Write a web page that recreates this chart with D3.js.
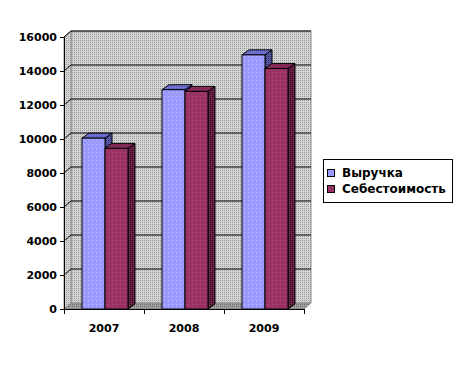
<!DOCTYPE html>
<html lang="ru">
<head>
    <meta charset="UTF-8">
    <script src="https://cdn.jsdelivr.net/npm/d3@7"></script>
    <title>Выручка и себестоимость</title>
    <style>
        body { margin: 0; background: #fff; }
        text { font-family: "DejaVu Sans", Verdana, sans-serif; font-size: 11px; font-weight: bold; fill: #000; }
        .legend text { font-size: 12px; }
    </style>
</head>
<body>
    <svg width="462" height="366"></svg>
    <script>
        const years = ['2007', '2008', '2009'];
        const seriesNames = ['Выручка', 'Себестоимость'];
        const revenue = [10050, 12900, 14950];
        const cost = [9450, 12800, 14150];
        const yTicks = [0, 2000, 4000, 6000, 8000, 10000, 12000, 14000, 16000];

        const svg = d3.select('svg');
        const defs = svg.append('defs');

        // dither-ish fills
        function dots(id, bg, fg, size, r) {
            const p = defs.append('pattern').attr('id', id).attr('width', size).attr('height', size)
                .attr('patternUnits', 'userSpaceOnUse');
            p.append('rect').attr('width', size).attr('height', size).attr('fill', bg);
            p.append('rect').attr('width', r).attr('height', r).attr('fill', fg);
        }
        dots('wall', '#d4d4d4', '#9a9a9a', 2, 1);
        dots('floor', '#a0a0a0', '#6e6e6e', 2, 1);
        dots('blueFront', '#9999ff', '#c4c4ff', 4, 1);
        dots('redFront', '#993366', '#c04a86', 4, 1);
        dots('blueSide', '#5a5aa8', '#2d2d70', 2, 1);
        dots('redSide', '#6a2448', '#2e0a1c', 2, 1);
        dots('blueTop', '#7272d4', '#5a5ab8', 2, 1);
        dots('redTop', '#8c2e5e', '#701f4a', 2, 1);

        const y = d3.scaleLinear().domain([0, 16000]).range([309, 37]);
        const x0 = d3.scaleBand().domain(years).range([64, 304]);
        const x1 = d3.scaleBand().domain(seriesNames).range([18, 64]);
        const dx = 7, dy = -6;      // wall depth
        const bdx = 7, bdy = -5;    // bar depth
        const left = 64, right = 304;

        const g = svg.append('g');

        // back wall + left wall
        g.append('polygon')
            .attr('points', [[left + dx, y(16000) + dy], [right + dx, y(16000) + dy], [right + dx, y(0) + dy], [left + dx, y(0) + dy]].join(' '))
            .attr('fill', 'url(#wall)').attr('stroke', '#8c8c8c');
        g.append('polygon')
            .attr('points', [[left, y(16000)], [left + dx, y(16000) + dy], [left + dx, y(0) + dy], [left, y(0)]].join(' '))
            .attr('fill', 'url(#wall)').attr('stroke', '#8c8c8c');

        // grid lines
        g.selectAll('.grid').data(yTicks.filter(d => d > 0)).join('polyline')
            .attr('points', d => [[left, y(d)], [left + dx, y(d) + dy], [right + dx, y(d) + dy]].join(' '))
            .attr('fill', 'none').attr('stroke', '#000').attr('stroke-width', 1);

        // floor
        g.append('polygon')
            .attr('points', [[left, y(0)], [right, y(0)], [right + dx, y(0) + dy], [left + dx, y(0) + dy]].join(' '))
            .attr('fill', 'url(#floor)').attr('stroke', '#8c8c8c');

        // bars
        const fills = {
            'Выручка': ['url(#blueFront)', 'url(#blueTop)', 'url(#blueSide)'],
            'Себестоимость': ['url(#redFront)', 'url(#redTop)', 'url(#redSide)']
        };
        const bars = [];
        years.forEach((yr, i) => {
            bars.push({ year: yr, s: 'Выручка', v: revenue[i] });
            bars.push({ year: yr, s: 'Себестоимость', v: cost[i] });
        });
        const w = x1.bandwidth();
        bars.forEach(d => {
            const bx = x0(d.year) + x1(d.s);
            const top = y(d.v), bot = y(0);
            const f = fills[d.s];
            const bg = g.append('g');
            bg.append('polygon')
                .attr('points', [[bx + w, top], [bx + w + bdx, top + bdy], [bx + w + bdx, bot + bdy], [bx + w, bot]].join(' '))
                .attr('fill', f[2]).attr('stroke', '#000').attr('stroke-linejoin', 'round');
            bg.append('polygon')
                .attr('points', [[bx, top], [bx + bdx, top + bdy], [bx + w + bdx, top + bdy], [bx + w, top]].join(' '))
                .attr('fill', f[1]).attr('stroke', '#000').attr('stroke-linejoin', 'round');
            bg.append('rect')
                .attr('x', bx).attr('y', top).attr('width', w).attr('height', bot - top)
                .attr('fill', f[0]).attr('stroke', '#000');
        });

        // axes
        const yAxis = d3.axisLeft(y).tickValues(yTicks).tickSize(4).tickPadding(3).tickFormat(d3.format('d'));
        const ya = svg.append('g').attr('transform', `translate(${left},0)`).call(yAxis);
        ya.select('.domain').attr('stroke', '#000');
        ya.selectAll('text').attr('dy', '0.35em');

        const xAxis = d3.axisBottom(x0).tickSize(0).tickPadding(15);
        const xa = svg.append('g').attr('transform', `translate(0,${y(0)})`).call(xAxis);
        xa.select('.domain').attr('d', `M${left},0.5H${right}`).attr('stroke', '#000');
        xa.selectAll('.tick-mark').data(d3.range(years.length + 1)).join('line')
            .attr('class', 'tick-mark')
            .attr('x1', i => left + i * x0.bandwidth() + 0.5).attr('x2', i => left + i * x0.bandwidth() + 0.5)
            .attr('y1', 0).attr('y2', 5).attr('stroke', '#000');

        // legend
        const lg = svg.append('g').attr('class', 'legend').attr('transform', 'translate(323,159)');
        lg.append('rect').attr('x', 0.5).attr('y', 0.5).attr('width', 129).attr('height', 43)
            .attr('fill', '#fff').attr('stroke', '#000');
        const legendFill = ['#9999ff', '#993366'];
        seriesNames.forEach((s, i) => {
            lg.append('rect').attr('x', 4.5).attr('y', 10.5 + i * 16).attr('width', 7).attr('height', 7)
                .attr('fill', legendFill[i]).attr('stroke', '#000');
            lg.append('text').attr('x', 19).attr('y', 18 + i * 16).text(s);
        });
    </script>
</body>
</html>
